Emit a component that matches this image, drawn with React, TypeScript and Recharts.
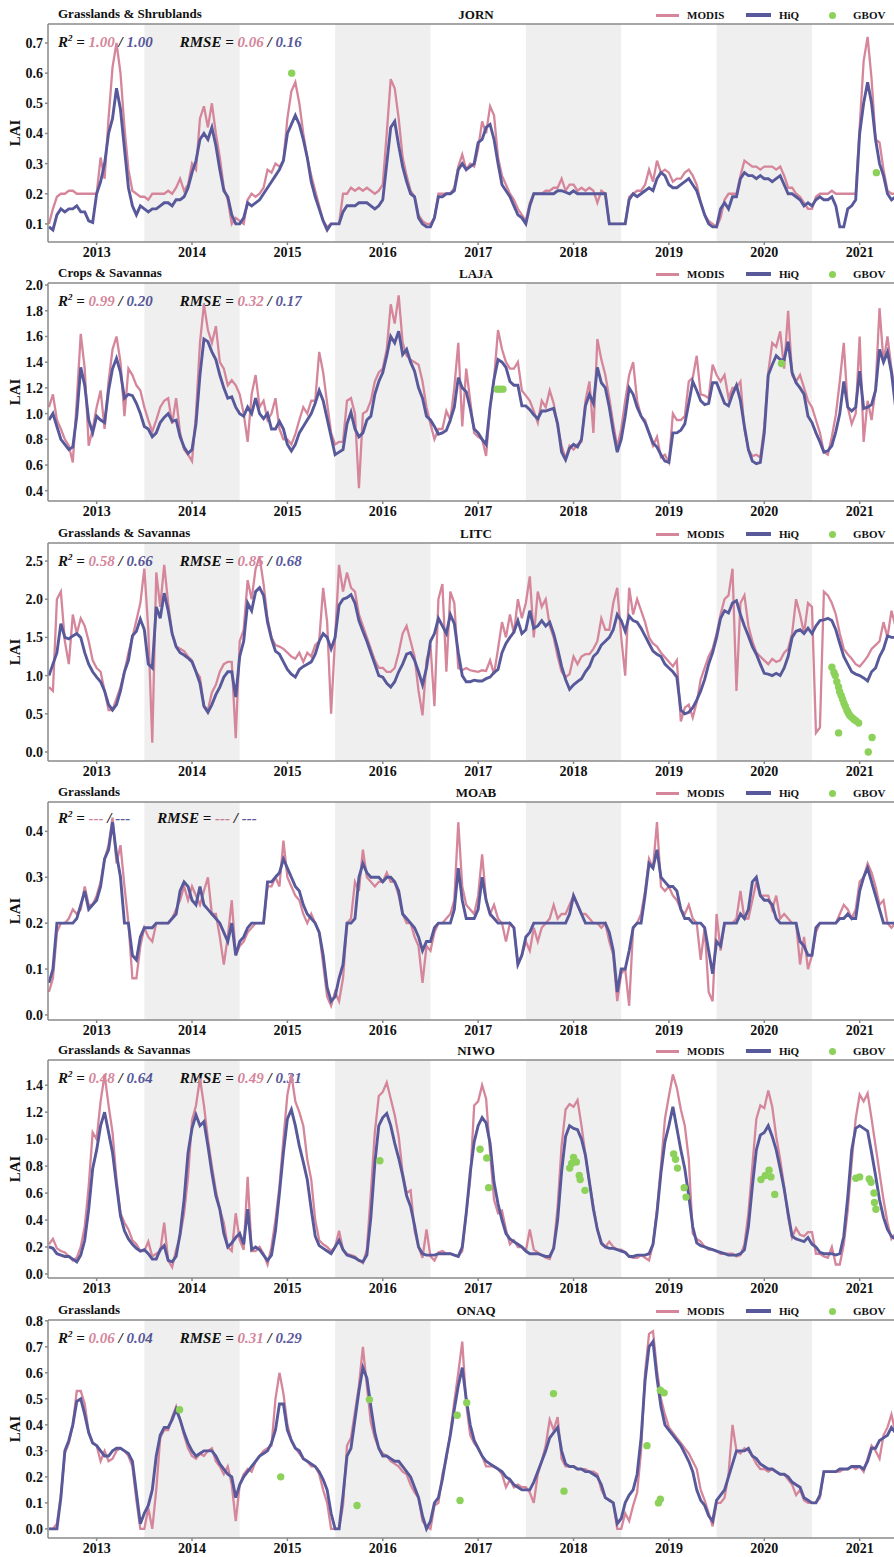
import React from 'react';
import { ComposedChart, Line, Scatter, XAxis, YAxis, ReferenceArea, ReferenceLine } from 'recharts';

// half-monthly time grid, starting 1 July 2012
const START = 2012.5;
const STEP = 1 / 24;
const YEARS = [2013, 2014, 2015, 2016, 2017, 2018, 2019, 2020, 2021];
const SHADED = [[2013.5, 2014.5], [2015.5, 2016.5], [2017.5, 2018.5], [2019.5, 2020.5]];
const X_DOMAIN = [2012.49, 2021.36];

const PINK = '#d5869b';
const BLUE = '#58599b';
const GREEN = '#8cd25a';
const AXIS = '#8a8a8a';
const FONT = "'Liberation Serif', 'Times New Roman', serif";

// ---- JORN ----
const JORN_MODIS = [
  0.10,0.15,0.19,0.20,0.20,0.21,0.21,0.20,0.20,0.20,0.20,0.20,0.20,0.32,0.25,0.45,0.62,0.70,0.60,0.42,0.28,0.21,0.20,0.19,
  0.19,0.18,0.20,0.20,0.20,0.20,0.21,0.20,0.22,0.25,0.21,0.23,0.30,0.28,0.45,0.49,0.42,0.50,0.40,0.32,0.22,0.18,0.10,0.12,
  0.11,0.10,0.18,0.20,0.19,0.20,0.22,0.28,0.27,0.30,0.29,0.31,0.45,0.54,0.57,0.50,0.40,0.32,0.26,0.21,0.16,0.11,0.09,0.10,
  0.10,0.10,0.20,0.20,0.22,0.21,0.22,0.21,0.22,0.21,0.20,0.21,0.23,0.40,0.58,0.55,0.45,0.32,0.26,0.21,0.19,0.13,0.11,0.10,
  0.10,0.12,0.20,0.20,0.20,0.20,0.22,0.29,0.33,0.28,0.30,0.29,0.35,0.44,0.40,0.49,0.46,0.32,0.26,0.23,0.20,0.18,0.15,0.13,
  0.11,0.17,0.20,0.20,0.20,0.21,0.21,0.22,0.22,0.25,0.21,0.23,0.23,0.21,0.22,0.21,0.22,0.21,0.17,0.21,0.20,0.10,0.10,0.10,
  0.10,0.10,0.19,0.20,0.21,0.21,0.23,0.28,0.24,0.31,0.27,0.28,0.27,0.24,0.25,0.25,0.27,0.28,0.26,0.23,0.17,0.13,0.11,0.10,
  0.09,0.12,0.18,0.20,0.20,0.20,0.26,0.31,0.30,0.29,0.29,0.28,0.29,0.29,0.29,0.28,0.29,0.26,0.22,0.22,0.20,0.19,0.17,0.15,
  0.15,0.19,0.20,0.20,0.20,0.21,0.20,0.20,0.20,0.20,0.20,0.20,0.42,0.64,0.72,0.58,0.38,0.37,0.28,0.21,0.20,0.20,0.20,0.20,
];
const JORN_HIQ = [
  0.09,0.08,0.13,0.15,0.14,0.15,0.15,0.16,0.14,0.14,0.11,0.105,0.20,0.24,0.30,0.40,0.45,0.55,0.48,0.35,0.22,0.16,0.13,0.16,
  0.15,0.14,0.15,0.15,0.16,0.17,0.17,0.16,0.18,0.18,0.19,0.22,0.27,0.31,0.38,0.40,0.38,0.42,0.36,0.28,0.21,0.19,0.13,0.10,
  0.10,0.12,0.17,0.16,0.17,0.18,0.20,0.22,0.24,0.26,0.28,0.31,0.40,0.43,0.46,0.43,0.38,0.32,0.24,0.19,0.15,0.11,0.08,0.10,
  0.10,0.10,0.14,0.16,0.16,0.16,0.17,0.17,0.17,0.16,0.15,0.16,0.18,0.30,0.42,0.44,0.36,0.29,0.24,0.20,0.19,0.12,0.10,0.09,
  0.09,0.12,0.19,0.19,0.20,0.20,0.21,0.28,0.30,0.28,0.29,0.30,0.37,0.38,0.42,0.43,0.38,0.30,0.23,0.21,0.19,0.16,0.13,0.12,
  0.10,0.16,0.20,0.20,0.20,0.20,0.20,0.20,0.21,0.21,0.205,0.20,0.21,0.20,0.20,0.20,0.20,0.20,0.20,0.20,0.20,0.10,0.10,0.10,
  0.10,0.10,0.18,0.20,0.19,0.20,0.21,0.22,0.21,0.25,0.27,0.26,0.23,0.22,0.22,0.23,0.24,0.25,0.23,0.21,0.17,0.13,0.10,0.09,
  0.09,0.15,0.17,0.15,0.19,0.19,0.25,0.27,0.26,0.26,0.25,0.26,0.25,0.25,0.24,0.25,0.26,0.23,0.20,0.20,0.19,0.18,0.16,0.17,
  0.16,0.18,0.19,0.18,0.18,0.19,0.16,0.09,0.09,0.15,0.16,0.18,0.40,0.50,0.57,0.50,0.38,0.30,0.26,0.20,0.18,0.19,0.19,0.19,
];
const JORN_GBOV = [[2015.045, 0.60], [2021.175, 0.27]];

// ---- LAJA ----
const LAJA_MODIS = [
  1.05,1.15,0.95,0.88,0.80,0.75,0.62,1.10,1.62,1.35,0.75,0.88,1.05,1.18,0.88,1.25,1.50,1.60,1.40,0.98,1.35,1.30,1.22,1.18,
  1.05,0.95,0.86,0.95,1.05,1.10,1.12,0.92,1.12,0.85,0.72,0.68,0.63,1.00,1.55,1.85,1.65,1.55,1.68,1.40,1.35,1.22,1.26,1.22,
  1.15,1.00,0.78,1.15,1.30,1.05,1.10,0.95,1.00,1.12,0.88,0.80,0.80,0.76,0.84,0.95,1.05,1.00,1.10,1.10,1.48,1.32,1.08,0.85,
  0.76,0.78,0.78,1.10,1.12,1.00,0.42,1.00,1.02,1.10,1.25,1.32,1.35,1.50,1.85,1.70,1.92,1.55,1.45,1.42,1.40,1.38,1.25,1.05,
  0.92,0.80,0.88,0.88,1.02,0.95,1.20,1.55,0.90,1.35,1.10,0.85,0.82,0.80,0.67,1.05,1.27,1.65,1.50,1.40,1.35,1.35,1.40,1.18,
  1.14,1.10,1.02,0.93,1.10,1.05,1.18,1.08,0.90,0.75,0.65,0.75,0.72,0.76,0.78,1.10,1.25,0.85,1.58,1.42,1.30,1.12,0.92,0.74,
  0.88,1.10,1.30,1.40,1.10,0.98,0.95,0.85,0.75,0.82,0.66,0.68,0.62,1.00,0.95,0.95,0.98,1.25,1.28,1.45,1.15,1.14,1.12,1.38,
  1.30,1.25,1.30,1.12,1.20,1.20,1.25,0.88,0.72,0.67,0.68,0.66,0.90,1.32,1.55,1.52,1.64,1.35,1.80,1.30,1.25,1.30,1.20,1.10,
  1.05,0.95,0.85,0.70,0.68,0.82,0.99,1.25,1.55,1.05,0.92,1.00,1.60,0.78,1.10,0.95,1.20,1.82,1.40,1.60,1.35,1.15,1.10,1.10,
];
const LAJA_HIQ = [
  0.95,1.00,0.90,0.80,0.76,0.72,0.74,0.98,1.36,1.22,0.95,0.85,0.98,0.95,0.93,1.18,1.35,1.43,1.32,1.12,1.15,1.14,1.08,1.00,
  0.90,0.88,0.82,0.85,0.93,0.97,1.00,0.94,0.95,0.82,0.74,0.69,0.72,0.92,1.30,1.58,1.56,1.48,1.42,1.30,1.20,1.12,1.13,1.05,
  1.00,0.98,1.05,1.00,1.12,1.00,0.96,1.00,0.88,0.88,0.94,0.88,0.76,0.71,0.76,0.85,0.90,0.95,1.00,1.08,1.18,1.10,0.96,0.82,
  0.68,0.70,0.72,0.92,1.01,0.88,0.82,0.85,0.95,0.98,1.15,1.25,1.32,1.45,1.60,1.55,1.64,1.46,1.50,1.40,1.33,1.20,1.12,0.98,
  0.95,0.90,0.84,0.85,0.87,0.95,1.05,1.28,1.20,1.17,1.04,0.88,0.85,0.80,0.76,1.05,1.27,1.42,1.40,1.36,1.25,1.22,1.22,1.06,
  1.06,1.03,0.99,0.96,1.02,1.02,1.03,1.04,0.92,0.70,0.64,0.73,0.76,0.74,0.80,1.06,1.15,1.08,1.36,1.24,1.20,1.05,0.86,0.70,
  0.80,0.98,1.20,1.15,1.05,0.98,0.93,0.85,0.77,0.74,0.68,0.63,0.62,0.85,0.85,0.87,0.92,1.08,1.25,1.18,1.10,1.07,1.08,1.24,
  1.24,1.16,1.08,1.06,1.15,1.22,1.10,0.90,0.72,0.63,0.61,0.62,0.85,1.30,1.38,1.45,1.42,1.42,1.56,1.32,1.24,1.20,1.15,0.98,
  0.93,0.85,0.78,0.70,0.71,0.75,0.86,1.00,1.25,1.05,1.02,1.05,1.33,1.04,1.05,1.07,1.18,1.50,1.40,1.48,1.32,1.06,1.00,1.00,
];
const LAJA_GBOV = [[2017.2, 1.19], [2017.23, 1.19], [2017.26, 1.19], [2020.18, 1.39]];

// ---- LITC ----
const LITC_MODIS = [
  0.85,0.80,2.00,2.10,1.45,1.15,1.80,1.55,1.75,1.65,1.45,1.20,1.10,1.05,0.80,0.55,0.55,0.70,0.85,1.05,1.30,1.50,1.72,1.95,
  2.40,1.60,0.12,2.35,1.90,2.45,1.95,1.55,1.38,1.35,1.32,1.25,1.20,1.05,0.98,0.60,0.55,0.78,0.88,1.05,1.15,1.18,1.18,0.18,
  1.45,1.60,2.25,2.00,2.40,2.55,2.20,1.75,1.50,1.40,1.38,1.35,1.30,1.25,1.22,1.30,1.18,1.30,1.25,1.40,1.45,2.15,1.70,0.50,
  1.50,2.45,2.10,2.35,2.15,2.10,1.80,1.65,1.50,1.35,1.20,1.10,1.10,1.05,1.05,1.10,1.30,1.55,1.65,1.45,1.25,0.80,0.48,1.20,
  1.40,0.60,2.00,2.20,1.05,2.10,1.95,1.10,1.07,1.10,1.07,1.06,1.05,1.07,1.06,1.20,1.02,1.35,1.70,1.50,1.80,1.55,2.00,1.75,
  1.95,2.30,1.50,2.10,1.90,2.00,1.65,1.50,1.25,1.05,0.98,1.02,1.25,1.15,1.25,1.28,1.28,1.35,1.45,1.75,1.60,1.60,1.95,2.15,
  1.50,1.00,2.15,1.80,2.00,1.85,1.70,1.50,1.42,1.38,1.30,1.24,1.18,1.12,1.20,0.40,0.58,0.62,0.45,0.65,0.95,1.10,1.25,1.35,
  1.55,1.80,2.00,2.05,2.40,0.80,1.95,2.05,1.65,1.45,1.30,1.25,1.20,1.15,1.22,1.18,1.20,1.30,1.35,1.55,2.00,1.80,1.55,1.95,
  1.90,0.25,0.32,2.10,2.05,1.95,1.80,1.55,1.35,1.28,1.22,1.15,1.12,1.18,1.25,1.35,1.40,1.45,1.70,1.50,1.85,1.65,1.60,1.60,
];
const LITC_HIQ = [
  1.00,1.15,1.30,1.68,1.50,1.48,1.52,1.55,1.50,1.30,1.15,1.05,0.98,0.92,0.80,0.62,0.55,0.62,0.80,1.05,1.20,1.52,1.58,1.74,
  1.60,1.15,1.10,1.90,1.75,2.08,1.85,1.55,1.38,1.30,1.27,1.23,1.18,1.05,0.90,0.60,0.52,0.62,0.75,0.85,0.98,1.05,1.05,0.72,
  1.25,1.45,1.95,1.85,2.10,2.15,2.05,1.70,1.48,1.32,1.28,1.18,1.08,1.02,0.98,1.08,1.12,1.15,1.18,1.28,1.45,1.55,1.50,1.35,
  1.50,1.92,2.00,2.02,2.06,1.95,1.72,1.58,1.45,1.30,1.15,1.00,0.98,0.90,0.85,0.92,1.05,1.15,1.28,1.30,1.20,1.05,0.88,1.10,
  1.45,1.55,1.75,1.65,1.55,1.80,1.68,1.30,1.00,0.92,0.92,0.94,0.93,0.93,0.96,0.98,1.04,1.08,1.30,1.42,1.50,1.57,1.72,1.55,
  1.60,1.85,1.62,1.65,1.72,1.65,1.70,1.55,1.35,1.12,0.95,0.82,0.88,0.92,0.96,1.05,1.12,1.25,1.30,1.40,1.45,1.50,1.60,1.80,
  1.72,1.58,1.78,1.72,1.70,1.62,1.52,1.42,1.32,1.28,1.25,1.15,1.10,1.05,0.98,0.55,0.50,0.52,0.58,0.68,0.80,0.95,1.15,1.30,
  1.50,1.75,1.85,1.82,1.95,1.98,1.80,1.65,1.52,1.38,1.28,1.15,1.03,1.02,1.00,1.03,1.00,1.10,1.25,1.50,1.58,1.60,1.55,1.62,
  1.55,1.65,1.72,1.73,1.75,1.72,1.60,1.42,1.25,1.15,1.05,1.02,1.00,0.97,0.93,1.05,1.10,1.25,1.35,1.52,1.50,1.50,1.50,1.50,
];
const LITC_GBOV = [
  [2020.709, 1.11], [2020.73, 1.04], [2020.744, 1.0], [2020.761, 0.92], [2020.779, 0.85], [2020.79, 0.79],
  [2020.806, 0.74], [2020.821, 0.69], [2020.835, 0.64], [2020.849, 0.6], [2020.865, 0.55], [2020.877, 0.52],
  [2020.89, 0.49], [2020.902, 0.47], [2020.92, 0.45], [2020.937, 0.43], [2020.96, 0.41], [2020.989, 0.38],
  [2020.779, 0.25], [2021.13, 0.19], [2021.09, 0.0],
];

// ---- MOAB ----
const MOAB_MODIS = [
  0.05,0.08,0.18,0.20,0.20,0.21,0.23,0.22,0.23,0.28,0.24,0.24,0.26,0.29,0.34,0.37,0.43,0.33,0.37,0.28,0.20,0.08,0.08,0.15,
  0.19,0.17,0.16,0.20,0.20,0.20,0.20,0.21,0.23,0.25,0.28,0.25,0.28,0.26,0.24,0.27,0.30,0.22,0.22,0.17,0.11,0.17,0.25,0.13,
  0.15,0.16,0.18,0.19,0.20,0.20,0.20,0.28,0.28,0.30,0.28,0.38,0.30,0.28,0.26,0.25,0.22,0.20,0.22,0.20,0.18,0.11,0.04,0.02,
  0.05,0.03,0.08,0.20,0.21,0.29,0.27,0.36,0.30,0.29,0.28,0.29,0.29,0.31,0.29,0.29,0.26,0.22,0.20,0.20,0.17,0.15,0.07,0.15,
  0.14,0.18,0.20,0.20,0.21,0.22,0.25,0.42,0.28,0.24,0.23,0.22,0.26,0.35,0.25,0.22,0.24,0.21,0.20,0.16,0.20,0.19,0.11,0.13,
  0.16,0.14,0.19,0.16,0.19,0.20,0.21,0.24,0.21,0.22,0.22,0.24,0.26,0.24,0.22,0.22,0.21,0.20,0.20,0.19,0.20,0.16,0.13,0.03,
  0.09,0.10,0.02,0.19,0.20,0.22,0.27,0.34,0.32,0.42,0.28,0.27,0.28,0.26,0.25,0.23,0.22,0.24,0.21,0.20,0.12,0.19,0.05,0.03,
  0.22,0.14,0.20,0.20,0.20,0.21,0.27,0.21,0.21,0.25,0.29,0.26,0.26,0.26,0.23,0.26,0.21,0.22,0.21,0.20,0.20,0.11,0.17,0.10,
  0.13,0.18,0.20,0.20,0.20,0.20,0.20,0.22,0.24,0.23,0.21,0.23,0.29,0.30,0.33,0.31,0.28,0.24,0.25,0.20,0.19,0.20,0.20,0.20,
];
const MOAB_HIQ = [
  0.07,0.10,0.20,0.20,0.20,0.20,0.20,0.21,0.24,0.27,0.23,0.24,0.25,0.28,0.34,0.36,0.42,0.35,0.30,0.20,0.20,0.13,0.12,0.17,
  0.19,0.19,0.19,0.20,0.20,0.20,0.20,0.21,0.22,0.27,0.29,0.28,0.25,0.24,0.28,0.24,0.23,0.22,0.21,0.20,0.18,0.16,0.20,0.13,
  0.16,0.17,0.19,0.20,0.20,0.20,0.20,0.29,0.29,0.30,0.31,0.34,0.32,0.30,0.28,0.27,0.24,0.22,0.21,0.20,0.18,0.13,0.06,0.03,
  0.04,0.08,0.11,0.20,0.20,0.21,0.30,0.33,0.31,0.30,0.30,0.30,0.29,0.30,0.30,0.29,0.27,0.22,0.21,0.20,0.19,0.17,0.14,0.16,
  0.16,0.19,0.20,0.20,0.20,0.20,0.23,0.32,0.25,0.21,0.21,0.21,0.23,0.30,0.25,0.22,0.21,0.20,0.20,0.20,0.20,0.19,0.11,0.13,
  0.17,0.18,0.20,0.20,0.20,0.20,0.20,0.20,0.20,0.20,0.20,0.22,0.26,0.24,0.22,0.20,0.20,0.20,0.20,0.20,0.20,0.18,0.14,0.05,
  0.10,0.10,0.14,0.19,0.20,0.20,0.26,0.33,0.32,0.36,0.30,0.29,0.28,0.28,0.27,0.23,0.21,0.21,0.20,0.20,0.20,0.19,0.14,0.09,
  0.16,0.15,0.20,0.20,0.20,0.20,0.22,0.21,0.23,0.29,0.30,0.26,0.25,0.25,0.24,0.21,0.20,0.20,0.20,0.20,0.20,0.16,0.15,0.13,
  0.13,0.19,0.20,0.20,0.20,0.20,0.20,0.21,0.21,0.22,0.21,0.21,0.27,0.30,0.32,0.29,0.26,0.23,0.20,0.20,0.20,0.20,0.20,0.20,
];
const MOAB_GBOV: number[][] = [];

// ---- NIWO ----
const NIWO_MODIS = [
  0.22,0.26,0.19,0.17,0.16,0.13,0.10,0.12,0.20,0.35,0.65,1.05,1.00,1.28,1.48,1.25,1.05,0.70,0.45,0.38,0.33,0.25,0.22,0.17,
  0.17,0.24,0.13,0.15,0.17,0.38,0.10,0.05,0.18,0.28,0.45,0.72,1.14,1.25,1.45,1.25,1.00,0.80,0.62,0.48,0.38,0.20,0.17,0.45,
  0.25,0.18,0.72,0.17,0.17,0.20,0.15,0.07,0.20,0.40,0.65,1.00,1.33,1.48,1.28,1.20,1.10,0.85,0.70,0.40,0.25,0.22,0.20,0.17,
  0.20,0.32,0.18,0.15,0.14,0.13,0.10,0.08,0.18,0.60,1.05,1.32,1.35,1.42,1.30,1.18,1.02,0.75,0.60,0.62,0.32,0.20,0.12,0.33,
  0.13,0.10,0.16,0.17,0.15,0.15,0.14,0.13,0.17,0.45,0.70,1.25,1.28,1.40,1.30,0.90,0.55,0.45,0.47,0.33,0.22,0.25,0.20,0.20,
  0.17,0.33,0.18,0.16,0.14,0.12,0.11,0.20,0.50,0.95,1.22,1.26,1.24,1.29,1.10,0.88,0.68,0.50,0.33,0.22,0.20,0.24,0.20,0.18,
  0.18,0.16,0.13,0.12,0.12,0.14,0.12,0.10,0.22,0.48,0.80,1.15,1.32,1.48,1.38,1.22,1.10,0.85,0.30,0.26,0.24,0.20,0.18,0.18,
  0.17,0.15,0.15,0.15,0.15,0.13,0.14,0.22,0.45,0.80,1.15,1.25,1.23,1.36,1.24,1.02,0.85,0.65,0.42,0.27,0.34,0.29,0.28,0.31,
  0.31,0.15,0.15,0.13,0.12,0.20,0.07,0.07,0.22,0.47,0.83,1.15,1.33,1.28,1.34,1.15,0.95,0.75,0.55,0.38,0.26,0.30,0.30,0.30,
];
const NIWO_HIQ = [
  0.20,0.19,0.15,0.14,0.13,0.13,0.11,0.09,0.14,0.25,0.48,0.78,0.92,1.10,1.20,1.05,0.90,0.66,0.43,0.32,0.26,0.22,0.19,0.17,
  0.18,0.15,0.11,0.11,0.18,0.21,0.10,0.09,0.13,0.30,0.55,0.90,1.08,1.18,1.10,1.13,0.95,0.75,0.58,0.48,0.30,0.20,0.23,0.27,
  0.30,0.22,0.48,0.18,0.20,0.18,0.14,0.10,0.14,0.32,0.60,0.90,1.15,1.22,1.10,0.95,0.83,0.70,0.48,0.28,0.21,0.19,0.17,0.15,
  0.20,0.25,0.18,0.14,0.13,0.12,0.10,0.09,0.14,0.42,0.82,1.10,1.16,1.19,1.10,0.97,0.86,0.73,0.58,0.50,0.36,0.20,0.15,0.14,
  0.14,0.14,0.15,0.15,0.15,0.15,0.14,0.13,0.20,0.45,0.75,0.98,1.10,1.16,1.12,0.97,0.68,0.52,0.40,0.30,0.26,0.24,0.22,0.20,
  0.17,0.15,0.15,0.15,0.14,0.13,0.13,0.19,0.40,0.76,1.02,1.10,1.08,1.07,1.00,0.88,0.68,0.48,0.33,0.23,0.20,0.19,0.19,0.18,
  0.17,0.16,0.13,0.13,0.14,0.14,0.14,0.15,0.22,0.45,0.75,0.98,1.10,1.24,1.08,0.92,0.78,0.58,0.35,0.23,0.21,0.20,0.19,0.18,
  0.17,0.16,0.15,0.14,0.14,0.14,0.15,0.18,0.35,0.65,0.92,1.03,1.05,1.10,1.02,0.92,0.78,0.63,0.45,0.28,0.26,0.25,0.24,0.27,
  0.22,0.20,0.16,0.15,0.15,0.15,0.14,0.15,0.28,0.57,0.92,1.08,1.10,1.08,1.06,0.90,0.73,0.55,0.42,0.33,0.28,0.26,0.26,0.26,
];
const NIWO_GBOV = [
  [2015.97, 0.84],
  [2017.02, 0.925], [2017.09, 0.86], [2017.11, 0.64],
  [2017.96, 0.785], [2017.98, 0.82], [2018.0, 0.865], [2018.03, 0.83], [2018.06, 0.73], [2018.07, 0.7], [2018.12, 0.62],
  [2019.05, 0.89], [2019.07, 0.85], [2019.09, 0.785], [2019.16, 0.64], [2019.18, 0.57],
  [2019.965, 0.7], [2020.01, 0.73], [2020.05, 0.77], [2020.07, 0.72], [2020.11, 0.59],
  [2020.96, 0.71], [2021.0, 0.72], [2021.1, 0.705], [2021.12, 0.68], [2021.15, 0.6], [2021.155, 0.53], [2021.17, 0.48],
];

// ---- ONAQ ----
const ONAQ_MODIS = [
  0.00,0.00,0.02,0.13,0.29,0.33,0.40,0.53,0.53,0.48,0.37,0.33,0.32,0.26,0.30,0.26,0.27,0.30,0.31,0.30,0.28,0.24,0.11,0.00,
  0.00,0.08,0.00,0.15,0.35,0.38,0.38,0.43,0.47,0.42,0.36,0.31,0.28,0.27,0.29,0.28,0.30,0.31,0.26,0.24,0.21,0.24,0.17,0.03,
  0.17,0.21,0.23,0.22,0.26,0.28,0.30,0.31,0.32,0.50,0.60,0.52,0.40,0.34,0.31,0.29,0.27,0.26,0.24,0.24,0.21,0.15,0.10,0.00,
  0.00,0.00,0.09,0.32,0.35,0.45,0.55,0.70,0.55,0.41,0.35,0.31,0.29,0.28,0.26,0.25,0.24,0.22,0.21,0.17,0.14,0.12,0.03,0.01,
  0.00,0.09,0.10,0.21,0.27,0.37,0.49,0.60,0.72,0.48,0.36,0.33,0.31,0.28,0.24,0.24,0.24,0.23,0.21,0.16,0.19,0.16,0.17,0.16,
  0.16,0.14,0.10,0.21,0.26,0.32,0.42,0.38,0.43,0.27,0.24,0.24,0.24,0.23,0.23,0.23,0.22,0.22,0.21,0.15,0.12,0.11,0.10,0.00,
  0.00,0.06,0.03,0.09,0.14,0.30,0.60,0.75,0.76,0.61,0.50,0.44,0.39,0.37,0.35,0.33,0.31,0.29,0.26,0.23,0.15,0.11,0.06,0.01,
  0.10,0.10,0.12,0.21,0.40,0.30,0.29,0.31,0.30,0.28,0.25,0.23,0.23,0.22,0.23,0.22,0.21,0.21,0.19,0.17,0.13,0.15,0.11,0.10,
  0.10,0.10,0.12,0.22,0.22,0.22,0.22,0.22,0.23,0.23,0.24,0.23,0.24,0.22,0.27,0.32,0.30,0.27,0.36,0.39,0.44,0.37,0.37,0.37,
];
const ONAQ_HIQ = [
  0.00,0.00,0.00,0.12,0.30,0.34,0.40,0.49,0.50,0.44,0.37,0.33,0.32,0.30,0.28,0.28,0.30,0.31,0.31,0.30,0.29,0.26,0.14,0.02,
  0.06,0.09,0.15,0.28,0.36,0.39,0.39,0.42,0.46,0.42,0.37,0.33,0.30,0.28,0.29,0.30,0.30,0.30,0.28,0.25,0.23,0.21,0.20,0.12,
  0.17,0.20,0.22,0.24,0.26,0.28,0.29,0.30,0.33,0.38,0.48,0.48,0.38,0.34,0.31,0.30,0.27,0.26,0.25,0.24,0.22,0.19,0.15,0.06,
  0.00,0.00,0.13,0.28,0.31,0.42,0.53,0.62,0.58,0.47,0.37,0.31,0.28,0.28,0.27,0.26,0.26,0.24,0.22,0.20,0.16,0.12,0.05,0.00,
  0.03,0.10,0.12,0.19,0.28,0.36,0.46,0.55,0.62,0.50,0.40,0.34,0.31,0.28,0.26,0.25,0.24,0.23,0.22,0.20,0.19,0.17,0.16,0.15,
  0.15,0.15,0.18,0.22,0.26,0.30,0.35,0.37,0.39,0.30,0.25,0.24,0.24,0.23,0.23,0.22,0.22,0.21,0.20,0.17,0.12,0.11,0.10,0.02,
  0.04,0.10,0.13,0.15,0.21,0.35,0.57,0.70,0.72,0.58,0.47,0.40,0.38,0.36,0.34,0.32,0.29,0.26,0.22,0.15,0.11,0.09,0.05,0.03,
  0.11,0.13,0.15,0.20,0.25,0.30,0.30,0.30,0.31,0.28,0.27,0.25,0.24,0.23,0.23,0.22,0.21,0.21,0.20,0.18,0.17,0.16,0.12,0.11,
  0.10,0.10,0.13,0.22,0.22,0.22,0.22,0.23,0.23,0.23,0.24,0.24,0.24,0.23,0.26,0.31,0.31,0.34,0.35,0.36,0.39,0.37,0.37,0.37,
];
const ONAQ_GBOV = [
  [2013.87, 0.458], [2014.93, 0.2], [2015.73, 0.09], [2015.86, 0.497], [2016.78, 0.437], [2016.81, 0.109],
  [2016.88, 0.485], [2017.79, 0.52], [2017.9, 0.145], [2018.77, 0.32], [2018.91, 0.533], [2018.95, 0.523],
  [2018.89, 0.1], [2018.91, 0.114],
];

const PANELS = [
  { cover: 'Grasslands & Shrublands', site: 'JORN', top: 24, yDomain: [0.04, 0.763], yTicks: [0.1, 0.2, 0.3, 0.4, 0.5, 0.6, 0.7],
    modis: JORN_MODIS, hiq: JORN_HIQ, gbov: JORN_GBOV, r2: ['1.00', '1.00'], rmse: ['0.06', '0.16'], statsDy: 5 },
  { cover: 'Crops & Savannas', site: 'LAJA', top: 283, yDomain: [0.32, 2.016], yTicks: [0.4, 0.6, 0.8, 1.0, 1.2, 1.4, 1.6, 1.8, 2.0],
    modis: LAJA_MODIS, hiq: LAJA_HIQ, gbov: LAJA_GBOV, r2: ['0.99', '0.20'], rmse: ['0.32', '0.17'], statsDy: 5 },
  { cover: 'Grasslands & Savannas', site: 'LITC', top: 543, yDomain: [-0.118, 2.736], yTicks: [0, 0.5, 1.0, 1.5, 2.0, 2.5],
    modis: LITC_MODIS, hiq: LITC_HIQ, gbov: LITC_GBOV, r2: ['0.58', '0.66'], rmse: ['0.85', '0.68'], statsDy: 5 },
  { cover: 'Grasslands', site: 'MOAB', top: 802, yDomain: [-0.011, 0.464], yTicks: [0, 0.1, 0.2, 0.3, 0.4],
    modis: MOAB_MODIS, hiq: MOAB_HIQ, gbov: MOAB_GBOV, r2: ['---', '---'], rmse: ['---', '---'], statsDy: 3 },
  { cover: 'Grasslands & Savannas', site: 'NIWO', top: 1060, yDomain: [-0.03, 1.587], yTicks: [0, 0.2, 0.4, 0.6, 0.8, 1.0, 1.2, 1.4],
    modis: NIWO_MODIS, hiq: NIWO_HIQ, gbov: NIWO_GBOV, r2: ['0.48', '0.64'], rmse: ['0.49', '0.31'], statsDy: 5 },
  { cover: 'Grasslands', site: 'ONAQ', top: 1320, yDomain: [-0.035, 0.803], yTicks: [0, 0.1, 0.2, 0.3, 0.4, 0.5, 0.6, 0.7, 0.8],
    modis: ONAQ_MODIS, hiq: ONAQ_HIQ, gbov: ONAQ_GBOV, r2: ['0.06', '0.04'], rmse: ['0.31', '0.29'], statsDy: 5 },
];

const PLOT_H = 218;
const M_TOP = 10;
const tickStyle = { fill: '#111', fontSize: 14, fontWeight: 700, fontFamily: FONT };

function Stat({ label, vals }: { label: React.ReactNode; vals: string[] }) {
  return (
    <span>
      {label} = <span style={{ color: PINK }}>{vals[0]}</span> / <span style={{ color: BLUE }}>{vals[1]}</span>
    </span>
  );
}

function Panel({ p }: { p: any }) {
  const rows = p.modis.map((m: number, i: number) => ({ t: START + i * STEP, modis: m, hiq: p.hiq[i] }));
  const pts = p.gbov.map(([t, v]: number[]) => ({ t, g: v }));
  const text = { position: 'absolute' as const, fontFamily: FONT, fontWeight: 700, color: '#111', whiteSpace: 'nowrap' as const };
  const legY = 24 - 9;

  return (
    <div style={{ position: 'absolute', left: 0, top: p.top - 24, width: 894, height: 24 + PLOT_H + 30 }}>
      <div style={{ ...text, left: 58, top: 6, fontSize: 13, lineHeight: '15px' }}>{p.cover}</div>
      <div style={{ ...text, left: 476, top: 7, fontSize: 13, lineHeight: '15px', transform: 'translateX(-50%)' }}>{p.site}</div>

      <div style={{ position: 'absolute', left: 656, top: legY - 1.5, width: 23, height: 3, background: PINK }} />
      <div style={{ ...text, left: 687, top: legY - 7, fontSize: 11, lineHeight: '14px' }}>MODIS</div>
      <div style={{ position: 'absolute', left: 746, top: legY - 1.75, width: 25, height: 3.5, background: BLUE }} />
      <div style={{ ...text, left: 779, top: legY - 7, fontSize: 11, lineHeight: '14px' }}>HiQ</div>
      <div style={{ position: 'absolute', left: 828.5, top: legY - 3.5, width: 7, height: 7, borderRadius: '50%', background: GREEN }} />
      <div style={{ ...text, left: 853, top: legY - 7, fontSize: 11, lineHeight: '14px' }}>GBOV</div>

      <div style={{ ...text, left: 15, top: 24 + PLOT_H / 2, fontSize: 15, transform: 'translate(-50%, -50%) rotate(-90deg)' }}>LAI</div>

      <div style={{ ...text, left: 58, top: 24 + p.statsDy, fontSize: 15, lineHeight: '18px', fontStyle: 'italic', zIndex: 0 }}>
        <Stat label={<span>R<span style={{ fontSize: 9, verticalAlign: 6 }}>2</span></span>} vals={p.r2} />
        <span style={{ marginLeft: 27 }}><Stat label="RMSE" vals={p.rmse} /></span>
      </div>

      <div style={{ position: 'absolute', left: 0, top: 24 - M_TOP, zIndex: 1 }}>
        <ComposedChart width={894} height={M_TOP + PLOT_H + 30} data={rows} margin={{ top: M_TOP, right: 0, bottom: 0, left: 0 }}>
          <XAxis
            dataKey="t"
            type="number"
            domain={X_DOMAIN}
            ticks={YEARS}
            interval={0}
            allowDataOverflow
            height={30}
            tick={tickStyle}
            tickSize={3}
            tickMargin={2}
            stroke={AXIS}
            strokeWidth={1.5}
          />
          <YAxis
            type="number"
            domain={p.yDomain}
            ticks={p.yTicks}
            interval={0}
            allowDataOverflow
            width={48}
            tick={tickStyle}
            tickSize={3}
            tickMargin={2}
            stroke={AXIS}
            strokeWidth={1.5}
            tickFormatter={(v: number) => v.toFixed(1)}
          />
          {SHADED.map(([a, b]) => (
            <ReferenceArea key={a} x1={a} x2={b} fill="#000" fillOpacity={0.063} stroke="none" ifOverflow="hidden" />
          ))}
          <ReferenceLine y={p.yDomain[1]} stroke={AXIS} strokeWidth={1.5} />
          <Line dataKey="modis" stroke={PINK} strokeWidth={2.3} dot={false} isAnimationActive={false} />
          <Line dataKey="hiq" stroke={BLUE} strokeWidth={2.9} dot={false} isAnimationActive={false} />
          {pts.length > 0 && (
            <Scatter
              data={pts}
              dataKey="g"
              fill={GREEN}
              isAnimationActive={false}
              shape={(s: any) => <circle cx={s.cx} cy={s.cy} r={3.7} fill={GREEN} />}
            />
          )}
        </ComposedChart>
      </div>
    </div>
  );
}

export default function App() {
  return (
    <div style={{ position: 'absolute', left: 0, top: 0, width: 894, height: 1557, overflow: 'hidden', background: '#fff' }}>
      {PANELS.map(p => (
        <Panel key={p.site} p={p} />
      ))}
    </div>
  );
}
